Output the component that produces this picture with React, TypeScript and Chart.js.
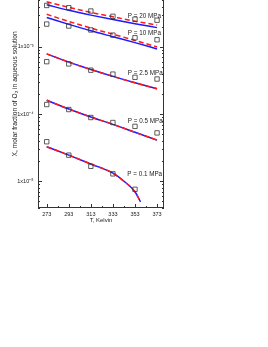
import React, { useEffect, useRef } from "react";
import { Chart, registerables } from "chart.js";

Chart.register(...registerables);

// ---- data ----
const expTemps = [273, 293, 313, 333, 353, 373];
const expTemps01 = [273, 293, 313, 333, 353];
const exp20 = [4.15e-3, 3.84e-3, 3.43e-3, 2.86e-3, 2.59e-3, 2.5e-3];
const exp10 = [2.19e-3, 2.05e-3, 1.79e-3, 1.5e-3, 1.37e-3, 1.28e-3];
const exp2_5 = [6.04e-4, 5.59e-4, 4.51e-4, 3.94e-4, 3.53e-4, 3.33e-4];
const exp0_5 = [1.39e-4, 1.17e-4, 8.9e-5, 7.5e-5, 6.57e-5, 5.25e-5];
const exp0_1 = [3.88e-5, 2.45e-5, 1.67e-5, 1.29e-5, 7.6e-6];

const modelTemps = [273, 293, 313, 333, 353, 373];
const modelTemps01 = [273, 293, 313, 333, 343, 353, 358];
const blue20 = [4.25e-3, 3.52e-3, 2.98e-3, 2.56e-3, 2.22e-3, 1.94e-3];
const red20 = [4.7e-3, 3.9e-3, 3.27e-3, 2.81e-3, 2.42e-3, 2.12e-3];
const blue10 = [2.74e-3, 2.17e-3, 1.74e-3, 1.42e-3, 1.16e-3, 9.35e-4];
const red10 = [3.06e-3, 2.4e-3, 1.91e-3, 1.55e-3, 1.25e-3, 1.0e-3];
const model2_5 = [7.9e-4, 5.94e-4, 4.62e-4, 3.65e-4, 2.93e-4, 2.38e-4];
const model0_5 = [1.61e-4, 1.19e-4, 9.04e-5, 7.03e-5, 5.37e-5, 4.1e-5];
const model0_1 = [3.27e-5, 2.45e-5, 1.81e-5, 1.32e-5, 1.0e-5, 6.98e-6, 4.95e-6];

const labelTexts = ["P = 20 MPa", "P = 10 MPa", "P = 2.5 MPa", "P = 0.5 MPa", "P = 0.1 MPa"];
const labelT = [346.5, 346.5, 346.5, 346.5, 346];
const labelX = [2.84e-3, 1.585e-3, 4.07e-4, 7.96e-5, 1.29e-5];

const xTickValues = [273, 293, 313, 333, 353, 373];
const xMinorTicks = [283, 303, 323, 343, 363];
const yTickValues = [1e-5, 1e-4, 1e-3];

const X_MIN = 265.1;
const X_MAX = 379.3;
const Y_MIN = 4e-6;
const Y_MAX = 1e-2;

const FONT = "'Liberation Sans', Arial, sans-serif";
const TEXT_COLOR = "#222";
const BLUE = "#1a1aff";
const RED = "#ff1a1a";

const sup: Record<string, string> = {
  "-": "\u207B",
  "0": "\u2070",
  "1": "\u00B9",
  "2": "\u00B2",
  "3": "\u00B3",
  "4": "\u2074",
  "5": "\u2075",
  "6": "\u2076",
  "7": "\u2077",
  "8": "\u2078",
  "9": "\u2079",
};

function fmtPow(v: number): string {
  const e = Math.round(Math.log10(v));
  return "1x10" + String(e).split("").map((c) => sup[c] || c).join("");
}

function pts(xs: number[], ys: number[]) {
  return xs.map((x, i) => ({ x, y: ys[i] }));
}

const framePlugin = {
  id: "frameTicks",
  afterDatasetsDraw(chart: any) {
    const { ctx, chartArea, scales } = chart;
    const { left, right, top, bottom } = chartArea;
    const xs = scales.x;
    const ys = scales.y;
    ctx.save();
    ctx.strokeStyle = "#333";
    ctx.lineWidth = 1;
    ctx.strokeRect(left + 0.5, top + 0.5, right - left - 1, bottom - top - 1);
    ctx.beginPath();
    const major = 4;
    const minor = 2;
    xTickValues.forEach((t) => {
      const px = Math.round(xs.getPixelForValue(t)) + 0.5;
      ctx.moveTo(px, bottom);
      ctx.lineTo(px, bottom - major);
      ctx.moveTo(px, top);
      ctx.lineTo(px, top + major);
    });
    xMinorTicks.forEach((t) => {
      const px = Math.round(xs.getPixelForValue(t)) + 0.5;
      ctx.moveTo(px, bottom);
      ctx.lineTo(px, bottom - minor);
      ctx.moveTo(px, top);
      ctx.lineTo(px, top + minor);
    });
    for (let e = -6; e <= -2; e++) {
      for (let k = 1; k <= 9; k++) {
        const v = k * Math.pow(10, e);
        if (v < Y_MIN || v > Y_MAX) continue;
        const py = Math.round(ys.getPixelForValue(v)) + 0.5;
        const len = k === 1 ? major : minor;
        ctx.moveTo(left, py);
        ctx.lineTo(left + len, py);
        ctx.moveTo(right, py);
        ctx.lineTo(right - len, py);
      }
    }
    ctx.stroke();

    ctx.fillStyle = TEXT_COLOR;
    ctx.font = `6.3px ${FONT}`;
    ctx.textAlign = "left";
    ctx.textBaseline = "middle";
    labelTexts.forEach((txt, i) => {
      ctx.fillText(txt, xs.getPixelForValue(labelT[i]), ys.getPixelForValue(labelX[i]));
    });
    ctx.restore();
  },
};

export default function App() {
  const ref = useRef<HTMLCanvasElement | null>(null);

  useEffect(() => {
    if (!ref.current) return;
    const squares = (xs: number[], ys: number[]) => ({
      data: pts(xs, ys),
      showLine: false,
      pointStyle: "rect",
      pointRadius: 3.1,
      borderColor: "#333",
      backgroundColor: "rgba(0,0,0,0)",
      pointBorderWidth: 0.8,
      order: -1,
    });
    const redLine = (xs: number[], ys: number[]) => ({
      data: pts(xs, ys),
      showLine: true,
      pointRadius: 0,
      borderColor: RED,
      borderWidth: 1.5,
      borderDash: [5, 3],
      cubicInterpolationMode: "monotone",
      order: 0,
    });
    const blueLine = (xs: number[], ys: number[]) => ({
      data: pts(xs, ys),
      showLine: true,
      pointRadius: 0,
      borderColor: BLUE,
      borderWidth: 1.5,
      cubicInterpolationMode: "monotone",
      order: 1,
    });

    const chart = new Chart(ref.current, {
      type: "scatter",
      data: {
        datasets: [
          squares(expTemps, exp20),
          squares(expTemps, exp10),
          squares(expTemps, exp2_5),
          squares(expTemps, exp0_5),
          squares(expTemps01, exp0_1),
          redLine(modelTemps, red20),
          redLine(modelTemps, red10),
          redLine(modelTemps, model2_5),
          redLine(modelTemps, model0_5),
          redLine(modelTemps01, model0_1),
          blueLine(modelTemps, blue20),
          blueLine(modelTemps, blue10),
          blueLine(modelTemps, model2_5),
          blueLine(modelTemps, model0_5),
          blueLine(modelTemps01, model0_1),
        ] as any,
      },
      options: {
        animation: false,
        responsive: false,
        devicePixelRatio: 1,
        layout: { padding: { left: 0, top: 0, right: 104, bottom: 122.9 } },
        plugins: { legend: { display: false }, tooltip: { enabled: false } },
        scales: {
          x: {
            type: "linear",
            min: X_MIN,
            max: X_MAX,
            grid: { display: false, drawTicks: false },
            border: { display: false },
            afterBuildTicks: (s: any) => {
              s.ticks = xTickValues.map((v) => ({ value: v }));
            },
            afterFit: (s: any) => {
              s.height = 16.1;
              s.paddingLeft = 0;
              s.paddingRight = 0;
            },
            ticks: {
              padding: 3,
              font: { family: FONT, size: 5.5 },
              color: TEXT_COLOR,
              maxRotation: 0,
              callback: (v: any) => String(v),
            },
            title: {
              display: true,
              text: "T, Kelvin",
              font: { family: FONT, size: 6 },
              color: TEXT_COLOR,
              padding: 0,
            },
          },
          y: {
            type: "logarithmic",
            min: Y_MIN,
            max: Y_MAX,
            grid: { display: false, drawTicks: false },
            border: { display: false },
            afterBuildTicks: (s: any) => {
              s.ticks = yTickValues.map((v) => ({ value: v }));
            },
            afterFit: (s: any) => {
              s.width = 38;
              s.paddingTop = 0;
              s.paddingBottom = 0;
            },
            ticks: {
              padding: 4.5,
              font: { family: FONT, size: 5.5 },
              color: TEXT_COLOR,
              callback: (v: any) => fmtPow(Number(v)),
            },
            title: {
              display: true,
              text: "X, molar fraction of O\u2082 in aqueous solution",
              font: { family: FONT, size: 6.7 },
              color: TEXT_COLOR,
              padding: { top: 11, bottom: 0 },
            },
          },
        },
      } as any,
      plugins: [framePlugin],
    });
    return () => chart.destroy();
  }, []);

  return (
    <div style={{ position: "absolute", left: 0, top: -25, width: 268, height: 372 }}>
      <canvas ref={ref} width={268} height={372} style={{ width: 268, height: 372, display: "block" }} />
    </div>
  );
}
